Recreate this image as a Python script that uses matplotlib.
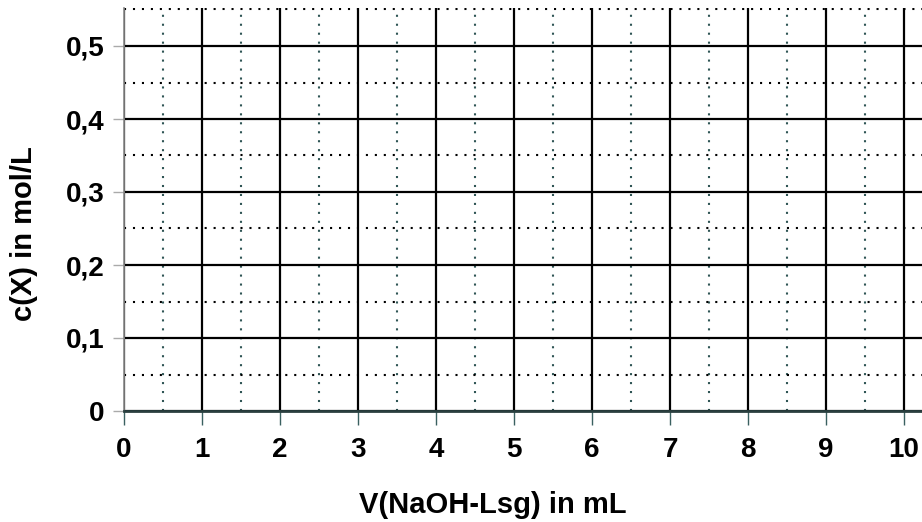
import matplotlib
matplotlib.use("Agg")
import matplotlib.pyplot as plt
from matplotlib.ticker import MultipleLocator

plt.rcParams['font.family'] = ['Liberation Sans', 'DejaVu Sans']

x_ticks = [0, 1, 2, 3, 4, 5, 6, 7, 8, 9, 10]
x_labels = ['0', '1', '2', '3', '4', '5', '6', '7', '8', '9', '10']
y_ticks = [0, 0.1, 0.2, 0.3, 0.4, 0.5]
y_labels = ['0', '0,1', '0,2', '0,3', '0,4', '0,5']
x_label = 'V(NaOH-Lsg) in mL'
y_label = 'c(X) in mol/L'

W, H = 922, 522
fig = plt.figure(figsize=(W / 100, H / 100), dpi=100)
left, bottom, top = 124, 411, 8
ax = fig.add_axes([left / W, (H - bottom) / H, (W - left) / W, (bottom - top) / H])

ax.set_xlim(0, (W - left) / 78.0)
ax.set_ylim(0, (bottom - top) / 730.0)

fs = 20
ax.set_xticks(x_ticks)
ax.set_xticklabels(x_labels, fontsize=fs, fontweight='bold')
ax.set_yticks(y_ticks)
ax.set_yticklabels(y_labels, fontsize=fs, fontweight='bold')
ax.xaxis.set_minor_locator(MultipleLocator(0.5))
ax.yaxis.set_minor_locator(MultipleLocator(0.05))

# solid major grid, dotted minor grid
ax.grid(which='major', color='black', linewidth=1.6, linestyle='-')
ax.grid(which='minor', axis='x', color='#2f5555', linewidth=1.5, linestyle=(0, (1, 3.3)))
ax.grid(which='minor', axis='y', color='black', linewidth=1.5, linestyle=(0, (1, 3.3)))
ax.set_axisbelow(True)

for s in ['top', 'right']:
    ax.spines[s].set_visible(False)
ax.spines['left'].set_color('#888888')
ax.spines['left'].set_linewidth(1.2)
ax.spines['bottom'].set_color('#2a3f3f')
ax.spines['bottom'].set_linewidth(2)

ax.tick_params(axis='x', which='major', direction='out', length=10, width=1, color='#3a6060', pad=9)
ax.tick_params(axis='y', which='major', direction='out', length=8, width=1, color='#aaaaaa', pad=6)
ax.tick_params(which='minor', length=0)

fig.text(493 / W, 1 - 505 / H, x_label, ha='center', va='center', fontsize=21, fontweight='bold')
fig.text(24 / W, 1 - 234 / H, y_label, ha='center', va='center', rotation=90, fontsize=21, fontweight='bold')

fig.savefig('out.png', dpi=100)
